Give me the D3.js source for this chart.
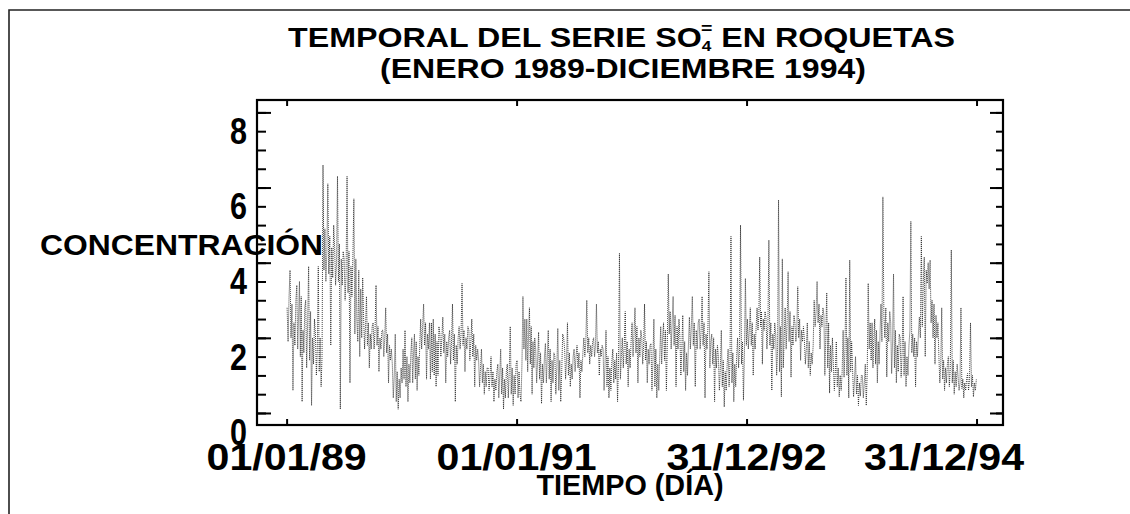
<!DOCTYPE html>
<html>
<head>
<meta charset="utf-8">
<script src="https://cdn.jsdelivr.net/npm/d3@7/dist/d3.min.js"></script>
<style>
  body { margin: 0; background: #fff; }
  svg { display: block; }
  text { font-family: "Liberation Sans", Arial, sans-serif; font-weight: bold; fill: #000; }
</style>
</head>
<body>
<svg id="chart" width="1130" height="514"></svg>
<script>
// Daily SO4= concentration at Roquetas, ten readings per month (Jan..Dec, one row per month)
const so4_1989 = [
  3.3, 2.4, 3.6, 4.3, 2.5, 3.4, 1.1, 2.9, 2.3, 3.5,
  3.9, 2.2, 3.1, 4.0, 2.0, 3.6, 0.8, 2.7, 2.1, 3.3,
  3.5, 1.7, 2.9, 4.4, 1.9, 3.2, 0.7, 2.5, 1.8, 3.0,
  2.6, 1.5, 2.2, 4.4, 1.6, 2.5, 1.2, 2.0, 7.1, 4.3,
  5.4, 4.0, 4.8, 6.6, 4.2, 5.2, 2.3, 4.9, 4.1, 5.5,
  4.9, 3.9, 4.5, 6.8, 4.0, 5.0, 0.6, 4.6, 3.9, 4.8,
  4.6, 3.5, 4.2, 6.8, 3.7, 4.8, 1.3, 4.4, 3.6, 4.7,
  6.2, 2.6, 4.6, 3.0, 2.4, 4.3, 2.0, 3.8, 2.5, 4.1,
  3.0, 2.2, 2.8, 3.6, 2.3, 2.9, 1.7, 2.6, 2.2, 2.8,
  2.9, 2.2, 2.7, 3.9, 2.3, 2.8, 1.6, 2.5, 2.2, 2.7,
  2.7, 2.0, 2.5, 3.3, 2.1, 2.6, 1.3, 2.3, 1.9, 2.2,
  1.8, 0.9, 1.5, 2.6, 0.8, 1.6, 0.6, 1.4, 0.9, 1.7
];
const so4_1990 = [
  1.3, 2.2, 1.4, 2.7, 1.2, 2.0, 0.8, 1.8, 1.3, 2.1,
  2.5, 1.3, 2.1, 2.6, 1.4, 2.4, 1.1, 2.0, 1.5, 2.3,
  3.0, 2.2, 2.8, 3.4, 2.3, 2.9, 1.4, 2.6, 2.2, 2.9,
  1.4, 2.9, 1.6, 3.0, 1.5, 2.6, 1.2, 2.4, 1.5, 2.8,
  2.6, 2.0, 2.5, 3.05, 2.1, 2.6, 1.3, 2.4, 2.0, 2.5,
  2.7, 1.8, 2.4, 3.4, 1.9, 2.6, 0.8, 2.3, 1.8, 2.5,
  2.8, 2.2, 2.6, 3.95, 2.3, 2.7, 1.6, 2.5, 2.2, 2.8,
  2.7, 1.9, 2.4, 3.0, 2.0, 2.6, 1.2, 2.3, 1.9, 2.2,
  1.9, 1.2, 1.7, 2.2, 1.3, 1.8, 1.0, 1.6, 1.2, 1.7,
  1.7, 1.1, 1.5, 2.0, 1.2, 1.6, 0.8, 1.4, 1.1, 1.6,
  1.8, 0.9, 1.5, 2.2, 1.0, 1.7, 0.6, 1.4, 0.9, 1.6,
  1.8, 0.9, 1.6, 2.8, 1.0, 1.7, 0.7, 1.5, 1.0, 1.8
];
const so4_1991 = [
  1.9, 0.9, 1.6, 1.0, 0.8, 1.8, 3.6, 2.2, 3.0, 1.9,
  3.0, 1.6, 2.6, 3.3, 1.8, 2.8, 1.0, 2.4, 1.7, 2.5,
  2.2, 1.3, 1.9, 2.65, 1.4, 2.1, 0.75, 1.8, 1.3, 2.0,
  2.35, 1.3, 2.0, 2.7, 1.4, 2.2, 0.8, 1.9, 1.3, 2.1,
  2.0, 1.0, 1.7, 2.75, 1.1, 1.9, 0.8, 1.6, 2.6, 2.5,
  2.2, 1.4, 1.9, 2.9, 1.5, 2.1, 1.2, 1.8, 1.4, 2.0,
  2.2, 1.6, 2.0, 2.3, 1.7, 2.1, 0.9, 1.9, 1.6, 2.1,
  2.5, 2.0, 2.4, 3.5, 2.1, 2.5, 1.8, 2.3, 2.0, 2.4,
  2.5, 2.0, 2.3, 3.4, 2.1, 2.4, 1.5, 2.2, 2.0, 2.3,
  2.2, 1.1, 1.8, 2.7, 1.2, 2.0, 0.9, 1.7, 1.1, 1.9,
  2.2, 1.3, 1.9, 1.4, 2.1, 0.8, 1.8, 4.75, 1.4, 2.0,
  2.5, 1.7, 2.3, 3.2, 1.8, 2.4, 1.2, 2.2, 1.7, 2.4
];
const so4_1992 = [
  2.9, 2.0, 2.6, 3.3, 2.1, 2.8, 1.3, 2.5, 2.0, 2.7,
  2.5, 1.8, 2.3, 3.4, 1.9, 2.4, 1.3, 2.2, 1.8, 2.3,
  2.35, 1.1, 1.9, 3.0, 1.2, 2.2, 0.9, 1.8, 1.1, 2.0,
  2.8, 1.8, 2.5, 2.9, 1.9, 2.7, 1.1, 2.4, 4.2, 2.6,
  3.2, 2.2, 2.9, 3.6, 2.3, 3.1, 1.2, 2.8, 2.2, 3.0,
  2.5, 1.5, 2.2, 3.1, 1.6, 2.4, 1.1, 2.1, 1.5, 2.3,
  3.05, 2.2, 2.8, 3.6, 2.3, 2.9, 1.2, 2.7, 2.2, 2.9,
  3.0, 2.2, 2.7, 3.6, 2.3, 2.9, 0.9, 2.6, 2.2, 2.8,
  4.26, 1.7, 2.4, 2.6, 1.8, 2.5, 0.8, 2.2, 1.7, 2.3,
  2.0, 1.1, 1.7, 2.7, 1.2, 1.9, 0.66, 1.6, 1.1, 1.8,
  2.2, 1.2, 1.9, 5.2, 1.3, 2.1, 0.8, 1.8, 1.2, 2.0,
  2.5, 1.7, 2.2, 5.5, 1.8, 2.4, 0.84, 2.1, 4.08, 2.3
];
const so4_1993 = [
  3.0, 2.2, 2.7, 3.3, 2.3, 2.9, 1.5, 2.6, 2.2, 2.8,
  3.3, 2.7, 3.1, 4.65, 2.8, 3.2, 1.8, 3.0, 2.7, 3.2,
  3.05, 2.2, 2.8, 5.1, 2.3, 2.9, 1.1, 2.6, 2.2, 2.9,
  2.6, 1.5, 2.2, 6.17, 1.6, 2.8, 0.93, 4.6, 1.7, 2.5,
  3.3, 2.2, 2.9, 4.26, 2.4, 3.2, 1.45, 2.8, 2.3, 3.1,
  2.9, 2.4, 2.7, 3.86, 2.5, 3.0, 1.9, 2.7, 2.4, 2.8,
  2.44, 1.8, 2.2, 2.9, 1.7, 2.4, 1.5, 2.1, 1.8, 2.3,
  3.5, 2.8, 3.2, 4.0, 2.9, 3.4, 2.2, 3.1, 2.8, 3.3,
  3.1, 1.5, 2.6, 3.7, 1.7, 2.9, 1.03, 2.3, 1.6, 2.5,
  1.8, 1.1, 1.6, 2.4, 1.2, 1.7, 0.93, 1.5, 1.1, 1.6,
  2.7, 1.45, 2.2, 4.1, 1.5, 2.5, 0.9, 4.57, 1.6, 2.4,
  1.64, 0.93, 1.4, 2.0, 1.0, 1.5, 0.7, 1.3, 0.95, 1.5
];
const so4_1994 = [
  1.5, 0.9, 1.3, 1.8, 0.7, 1.6, 3.95, 2.2, 2.9, 1.9,
  2.9, 1.7, 2.5, 3.0, 1.8, 2.7, 1.3, 2.4, 1.8, 2.6,
  3.4, 2.4, 6.25, 3.1, 2.5, 3.3, 1.46, 2.9, 2.4, 3.2,
  2.9, 1.55, 2.4, 4.2, 1.7, 2.7, 1.3, 2.3, 1.6, 2.6,
  2.5, 1.45, 2.1, 3.6, 1.5, 2.4, 1.2, 2.0, 1.5, 2.3,
  2.7, 5.6, 2.1, 2.6, 2.0, 2.5, 1.2, 2.4, 2.0, 2.6,
  3.05, 2.5, 5.2, 2.8, 3.95, 4.65, 2.0, 4.3, 3.95, 4.5,
  3.8, 4.57, 2.9, 3.5, 2.5, 3.4, 1.8, 3.1, 2.5, 2.9,
  2.0, 1.3, 1.8, 3.3, 1.4, 1.9, 1.1, 1.7, 1.3, 1.8,
  2.0, 1.2, 1.7, 4.84, 1.3, 1.9, 1.0, 1.6, 1.2, 1.8,
  1.45, 1.1, 1.3, 3.3, 1.15, 1.4, 0.9, 1.3, 1.1, 1.4,
  1.55, 1.1, 1.4, 2.9, 1.2, 1.5, 0.93, 1.3, 1.1, 1.4
];

const seriesByYear = [
  [1989, so4_1989], [1990, so4_1990], [1991, so4_1991],
  [1992, so4_1992], [1993, so4_1993], [1994, so4_1994]
];
const perMonth = 10;

const xTickDates  = ["1989-01-01", "1991-01-01", "1992-12-31", "1994-12-31"];
const xTickLabels = ["01/01/89", "01/01/91", "31/12/92", "31/12/94"];
const yTickLabels = [0, 2, 4, 6, 8];

// ---- layout ----
const svg = d3.select("#chart");
const frame = { left: 257, right: 1003, top: 100, bottom: 425 };
const parse = d3.utcParse("%Y-%m-%d");

const x = d3.scaleUtc()
  .domain([d3.utcDay.offset(parse("1989-01-01"), -94), d3.utcDay.offset(parse("1994-12-31"), 84)])
  .range([frame.left, frame.right]);
// the zero level sits just below the lower frame edge
const y = d3.scaleLinear()
  .domain([0.18, 8.83])
  .range([frame.bottom, frame.top]);

// ---- page border ----
svg.append("path")
  .attr("d", "M9,514 L9,10 L1130,10")
  .attr("fill", "none").attr("stroke", "#222").attr("stroke-width", 1.6);

// ---- series ----
const points = [];
seriesByYear.forEach(([year, vals]) => {
  vals.forEach((v, k) => {
    const m = Math.floor(k / perMonth), j = k % perMonth;
    const start = Date.UTC(year, m, 1);
    const days = (Date.UTC(year, m + 1, 1) - start) / 864e5;
    points.push({ date: new Date(start + (j + 0.5) * days / perMonth * 864e5), value: v });
  });
});

const line = d3.line().x(d => x(d.date)).y(d => y(d.value));
svg.append("path")
  .datum(points)
  .attr("d", line)
  .attr("fill", "none")
  .attr("stroke", "#1c1c1c")
  .attr("stroke-width", 0.85)
  .attr("stroke-dasharray", "1,1");

// ---- axes (ticks point inward) ----
const minor = d3.range(0.5, 8.51, 0.5);
const major = minor.filter((v, i) => i % 4 === 0);
function styleAxis(g) {
  g.select(".domain").remove();
  g.selectAll("line").attr("stroke", "#000").attr("stroke-width", 2);
}
svg.append("g").attr("transform", `translate(${frame.left},0)`)
  .call(d3.axisRight(y).tickValues(minor).tickSize(9).tickFormat(""))
  .call(styleAxis);
svg.append("g").attr("transform", `translate(${frame.left},0)`)
  .call(d3.axisRight(y).tickValues(major).tickSize(14).tickFormat(""))
  .call(styleAxis);
svg.append("g").attr("transform", `translate(${frame.right},0)`)
  .call(d3.axisLeft(y).tickValues(minor).tickSize(7).tickFormat(""))
  .call(styleAxis);
svg.append("g").attr("transform", `translate(${frame.right},0)`)
  .call(d3.axisLeft(y).tickValues(major).tickSize(13).tickFormat(""))
  .call(styleAxis);
const xTicks = xTickDates.map(parse);
svg.append("g").attr("transform", `translate(0,${frame.bottom})`)
  .call(d3.axisTop(x).tickValues(xTicks).tickSize(6).tickFormat(""))
  .call(styleAxis);
svg.append("g").attr("transform", `translate(0,${frame.top})`)
  .call(d3.axisBottom(x).tickValues(xTicks).tickSize(6).tickFormat(""))
  .call(styleAxis);

// frame
svg.append("rect")
  .attr("x", frame.left).attr("y", frame.top)
  .attr("width", frame.right - frame.left).attr("height", frame.bottom - frame.top)
  .attr("fill", "none").attr("stroke", "#000").attr("stroke-width", 2.2);

// ---- tick labels ----
svg.append("g").selectAll("text")
  .data(yTickLabels).join("text")
  .attr("x", 247).attr("y", d => y(d) + 13)
  .attr("text-anchor", "end")
  .attr("font-size", 36)
  .attr("textLength", 17).attr("lengthAdjust", "spacingAndGlyphs")
  .text(d => d);

svg.append("g").selectAll("text")
  .data(xTickLabels).join("text")
  .attr("x", (d, i) => i === xTickLabels.length - 1 ? frame.right + 21 : x(xTicks[i]))
  .attr("y", 470)
  .attr("text-anchor", (d, i) => i === xTickLabels.length - 1 ? "end" : "middle")
  .attr("font-size", 37)
  .attr("textLength", 160).attr("lengthAdjust", "spacingAndGlyphs")
  .text(d => d);

// ---- titles ----
const t1 = svg.append("text")
  .attr("x", 288).attr("y", 47)
  .attr("font-size", 28)
  .attr("textLength", 667).attr("lengthAdjust", "spacingAndGlyphs");
t1.append("tspan").text("TEMPORAL DEL SERIE SO");
t1.append("tspan").attr("font-size", 15).attr("dy", 4).text("4");
t1.append("tspan").attr("font-size", 17).attr("dx", -9).attr("dy", -17).text("=");
t1.append("tspan").attr("dy", 13).text(" EN ROQUETAS");

svg.append("text")
  .attr("x", 380).attr("y", 78)
  .attr("font-size", 28)
  .attr("textLength", 486).attr("lengthAdjust", "spacingAndGlyphs")
  .text("(ENERO 1989-DICIEMBRE 1994)");

svg.append("text")
  .attr("x", 40).attr("y", 255)
  .attr("font-size", 29)
  .attr("textLength", 283).attr("lengthAdjust", "spacingAndGlyphs")
  .text("CONCENTRACIÓN");

svg.append("text")
  .attr("x", (frame.left + frame.right) / 2).attr("y", 495)
  .attr("text-anchor", "middle")
  .attr("font-size", 29)
  .attr("textLength", 187).attr("lengthAdjust", "spacingAndGlyphs")
  .text("TIEMPO (DÍA)");
</script>
</body>
</html>
